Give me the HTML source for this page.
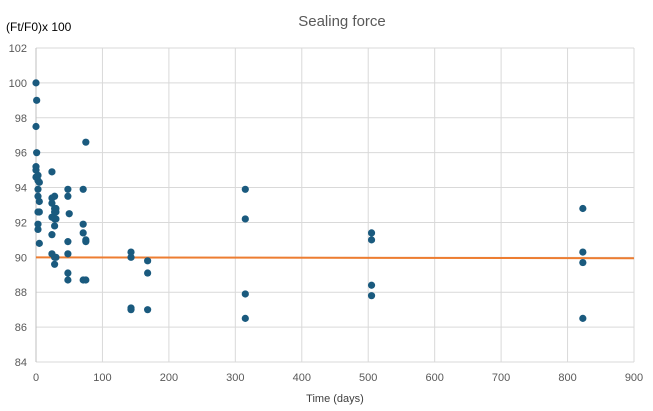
<!DOCTYPE html>
<html><head><meta charset="utf-8"><style>
body{margin:0;background:#fff;font-family:"Liberation Sans",sans-serif;}
svg{display:block}
</style></head><body>
<svg id="chart" width="653" height="411">
<rect width="653" height="411" fill="#fff"/>
<text x="342" y="26" text-anchor="middle" font-size="15" fill="#595959">Sealing force</text>
<text x="6" y="31" font-size="12" fill="#000">(Ft/F0)x 100</text>
<text x="335" y="402" text-anchor="middle" font-size="11" fill="#404040">Time (days)</text>
<g id="grid"></g><g id="ticks"></g><g id="trend"></g><g id="points"></g>
</svg>
<script>
const xTicks=[0,100,200,300,400,500,600,700,800,900];
const yTicks=[84,86,88,90,92,94,96,98,100,102];
const days=[0,0,0,0,0,1,1,3,3,3,3,3,3,3,5,5,5,5,
24,24,24,24,24,24,28,28,28,28,28,28,28,30,30,30,30,
48,48,48,48,48,48,50,71,71,71,71,75,75,75,75,
143,143,143,143,168,168,168,315,315,315,315,505,505,505,505,823,823,823,823];
const values=[100,97.5,95.2,95.0,94.6,99.0,96.0,94.7,94.4,93.9,93.5,92.6,91.9,91.6,94.3,93.2,92.6,90.8,
94.9,93.4,93.1,92.3,91.3,90.2,93.5,92.8,92.6,91.8,90.0,89.6,92.2,92.8,92.2,92.6,90.0,
93.9,93.5,90.9,90.2,89.1,88.7,92.5,93.9,91.9,91.4,88.7,96.6,91.0,90.9,88.7,
90.3,90.0,87.1,87.0,89.8,89.1,87.0,93.9,92.2,87.9,86.5,91.4,91.0,88.4,87.8,92.8,90.3,89.7,86.5];
const trendX=[0,900];
const trendY=[90.0,89.95];
const X0=36,X1=634,Y0=362,Y1=48;
const sx=v=>X0+(v-0)/900*(X1-X0);
const sy=v=>Y0-(v-84)/18*(Y0-Y1);
const NS="http://www.w3.org/2000/svg";
function mk(tag,attrs,parent){const e=document.createElementNS(NS,tag);for(const k in attrs)e.setAttribute(k,attrs[k]);document.getElementById(parent).appendChild(e);return e;}
yTicks.forEach(t=>{
 const l=mk('line',{x1:X0,x2:X1,y1:sy(t),y2:sy(t),stroke:'#d9d9d9','stroke-width':1},'grid');
 
 
 const tx=mk('text',{x:27,y:sy(t)+4,'text-anchor':'end','font-size':11,fill:'#595959'},'ticks');
 tx.textContent=t;
 
 
});
xTicks.forEach(t=>{
 const l=mk('line',{x1:sx(t),x2:sx(t),y1:Y1,y2:Y0,stroke:t===0?'#bfbfbf':'#d9d9d9','stroke-width':1},'grid');
 
 
 const tx=mk('text',{x:sx(t),y:381,'text-anchor':'middle','font-size':11,fill:'#595959'},'ticks');
 tx.textContent=t;
 
 
});
const tl=mk('line',{x1:sx(trendX[0]),y1:sy(trendY[0]),x2:sx(trendX[1]),y2:sy(trendY[1]),stroke:'#ed7d31','stroke-width':2},'trend');


days.forEach((d,i)=>{
 const c=mk('circle',{cx:sx(d),cy:sy(values[i]),r:3.6,fill:'#1a5a7e'},'points');
 
 
});
</script>
</body></html>
